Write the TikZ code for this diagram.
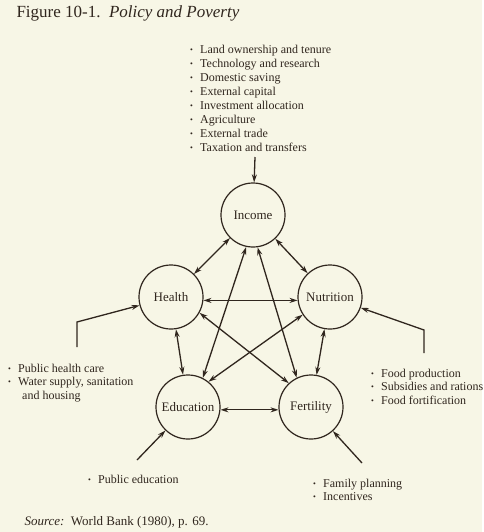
\documentclass[tikz,border=0pt]{standalone}
\usepackage{fontspec}
\setmainfont{Liberation Serif}
\usetikzlibrary{positioning, arrows.meta}
\definecolor{ink}{RGB}{48,38,30}
\definecolor{paper}{RGB}{247,246,230}
\newcommand{\bul}{\makebox[10pt][l]{\raisebox{0.6pt}{\footnotesize\textbullet}}}

\begin{document}
\begin{tikzpicture}[
        x=1pt, y=-1pt,
        every node/.style={text=ink},
        topic/.style={circle, draw=ink, line width=1.2pt, minimum size=64pt,
            inner sep=0pt, font=\fontsize{13}{15}\selectfont},
        list/.style={anchor=north west, align=left, inner sep=0pt,
            font=\fontsize{12}{13.5}\selectfont},
        arrow/.style={-{Stealth[length=8pt,width=5pt]}, line width=1.3pt, draw=ink},
        both/.style={{Stealth[length=8pt,width=5pt]}-{Stealth[length=8pt,width=5pt]},
            line width=1.3pt, draw=ink},
    ]
    \fill[paper] (0,0) rectangle (482,532);
    \node[anchor=base west, font=\fontsize{17}{19}\selectfont] (title) at (13,18)
        {Figure 10-1.\enspace\textit{Policy and Poverty}};
    % the five circles
    \node[topic] (income) at (253,215) {Income};
    \node[topic] (health) at (171,297) {Health};
    \node[topic] (nutrition) at (330,297) {Nutrition};
    \node[topic] (education) at (188,407) {Education};
    \node[topic] (fertility) at (311,407) {Fertility};
    % policy lists
    \node[list, font=\fontsize{12}{14}\selectfont] (incomepol) at (190,44.5)
        {\bul Land ownership and tenure\\ \bul Technology and research\\
         \bul Domestic saving\\ \bul External capital\\ \bul Investment allocation\\
         \bul Agriculture\\ \bul External trade\\ \bul Taxation and transfers};
    \node[list] (healthpol) at (8,363.5)
        {\bul Public health care\\ \bul Water supply, sanitation\\ \hspace*{14pt}and housing};
    \node[list] (nutritionpol) at (371,368.5)
        {\bul Food production\\ \bul Subsidies and rations\\ \bul Food fortification};
    \node[list] (educationpol) at (88,474.5) {\bul Public education};
    \node[list] (fertilitypol) at (313,478.5) {\bul Family planning\\ \bul Incentives};
    \node[anchor=base west, font=\fontsize{13}{15}\selectfont] (source) at (21,525)
        {\textit{Source:}\enspace World Bank (1980), p. 69.};
    % free ends of the policy arrows
    \coordinate (incomein) at (255,157);
    \coordinate (healthin) at (77,347);
    \coordinate (healthbend) at (77,322);
    \coordinate (nutritionin) at (424,353);
    \coordinate (nutritionbend) at (424,330);
    \coordinate (educationin) at (137,460);
    \coordinate (fertilityin) at (362,463);
    \draw[arrow] (incomein) -- (income);
    \draw[arrow] (healthin) -- (healthbend) -- (health);
    \draw[arrow] (nutritionin) -- (nutritionbend) -- (nutrition);
    \draw[arrow] (educationin) -- (education);
    \draw[arrow] (fertilityin) -- (fertility);
    % pentagon
    \draw[both] (income) -- (health);
    \draw[both] (income) -- (nutrition);
    \draw[both] (health.-6) -- (nutrition.-174);
    \draw[both] (health) -- (education);
    \draw[both] (nutrition) -- (fertility);
    \draw[both] (education.-5) -- (fertility.-175);
    % star
    \draw[both] (income.-102) -- (education.63);
    \draw[both] (income.-82) -- (fertility.116);
    \draw[both] (health.-29) -- (fertility.133);
    \draw[both] (nutrition.-147) -- (education.51);
\end{tikzpicture}
\end{document}
